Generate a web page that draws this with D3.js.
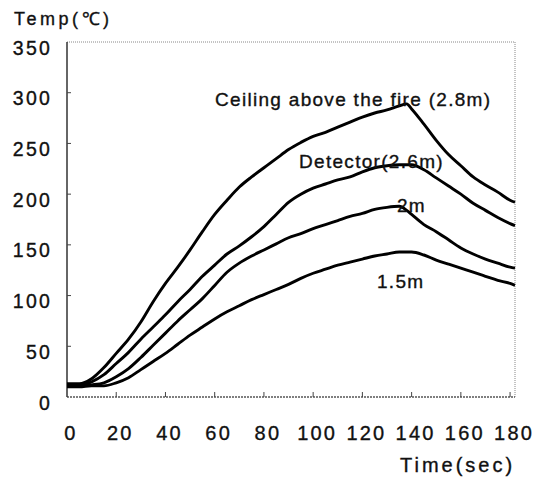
<!DOCTYPE html>
<html>
<head>
<meta charset="utf-8">
<script src="https://cdn.jsdelivr.net/npm/d3@7"></script>
<style>
    body { margin: 0; background: #fff; }
    text { font-family: "Liberation Sans", Arial, sans-serif; fill: #111; stroke: #111; stroke-width: 0.35px; }
</style>
</head>
<body>
<svg id="chart"></svg>
<script>
// sample times (sec), shared by all four series
var times = [0, 5, 10, 15, 20, 25, 30, 35, 40, 45, 50, 55, 60, 65, 70, 75, 80, 85, 90, 95,
    100, 105, 110, 115, 120, 125, 130, 135, 138, 140, 145, 150, 155, 160, 165, 170, 175, 180, 182];

// temperatures (deg C)
var ceilingTemp = [13, 13, 18, 29, 43, 57, 74, 94, 112, 128, 145, 163, 180, 194, 207, 217, 226, 235, 244, 251,
    257, 261, 266, 271, 276, 280, 283, 287, 289, 284, 269, 253, 239, 228, 217, 209, 202, 194, 192];
var detectorTemp = [12, 12, 15, 22, 33, 44, 57, 69, 81, 94, 106, 119, 130, 141, 149, 158, 168, 180, 192, 200,
    206, 210, 214, 217, 222, 226, 228, 229, 229, 229, 224, 216, 208, 200, 191, 184, 177, 171, 169];
var temp2m = [11, 11, 12, 14, 20, 28, 39, 51, 63, 75, 86, 97, 110, 123, 132, 139, 145, 151, 157, 161,
    166, 170, 174, 178, 181, 185, 187, 188, 184, 180, 170, 163, 155, 147, 141, 136, 132, 128, 127];
var temp15m = [10, 10, 11, 11, 14, 19, 27, 35, 43, 52, 61, 69, 77, 84, 90, 96, 101, 106, 111, 117,
    122, 126, 130, 133, 136, 139, 141, 143, 143, 143, 140, 135, 131, 127, 123, 119, 115, 112, 110];

var xTicks = [0, 20, 40, 60, 80, 100, 120, 140, 160, 180];
var yTicks = [0, 50, 100, 150, 200, 250, 300, 350];

var seriesLabels = ['Ceiling above the fire (2.8m)', 'Detector(2.6m)', '2m', '1.5m'];

(function () {
    var width = 537, height = 478;
    var left = 67, right = 515, top = 42, bottom = 397;

    var svg = d3.select('#chart')
        .attr('width', width)
        .attr('height', height);

    var x = d3.scaleLinear().domain([0, 182]).range([left, right]);
    var y = d3.scaleLinear().domain([0, 350]).range([bottom, top]);

    // frame: solid left axis, dotted grey on the other sides
    svg.append('line')
        .attr('x1', left).attr('x2', right).attr('y1', top).attr('y2', top)
        .attr('stroke', '#888').attr('stroke-width', 1).attr('stroke-dasharray', '1,1');
    svg.append('line')
        .attr('x1', right).attr('x2', right).attr('y1', top).attr('y2', bottom)
        .attr('stroke', '#888').attr('stroke-width', 1).attr('stroke-dasharray', '1,1');
    svg.append('line')
        .attr('x1', left).attr('x2', right).attr('y1', bottom).attr('y2', bottom)
        .attr('stroke', '#555').attr('stroke-width', 1.5).attr('stroke-dasharray', '2,1');
    svg.append('line')
        .attr('x1', left).attr('x2', left).attr('y1', top).attr('y2', bottom)
        .attr('stroke', '#333').attr('stroke-width', 1.5);

    // inward tick marks
    svg.selectAll('.ytick')
        .data(yTicks.slice(1, -1))
        .enter().append('line')
            .attr('class', 'ytick')
            .attr('x1', left).attr('x2', left + 4)
            .attr('y1', function (d) { return y(d); })
            .attr('y2', function (d) { return y(d); })
            .attr('stroke', '#444');

    svg.selectAll('.xtick')
        .data(xTicks.slice(1))
        .enter().append('line')
            .attr('class', 'xtick')
            .attr('x1', function (d) { return x(d); })
            .attr('x2', function (d) { return x(d); })
            .attr('y1', bottom).attr('y2', bottom - 5)
            .attr('stroke', '#444');

    // tick labels
    svg.selectAll('.ylabel')
        .data(yTicks)
        .enter().append('text')
            .attr('class', 'ylabel')
            .attr('x', 52)
            .attr('y', function (d) { return y(d) + 12.5; })
            .attr('text-anchor', 'end')
            .style('font-size', '19.5px')
            .style('letter-spacing', '2.2px')
            .text(function (d) { return d; });

    svg.selectAll('.xlabel')
        .data(xTicks)
        .enter().append('text')
            .attr('class', 'xlabel')
            .attr('x', function (d) { return x(d) + 4; })
            .attr('y', 440)
            .attr('text-anchor', 'middle')
            .style('font-size', '20px')
            .style('letter-spacing', '2.2px')
            .text(function (d) { return d; });

    // axis titles
    svg.append('text')
        .attr('x', 14).attr('y', 25)
        .style('font-size', '18px')
        .style('letter-spacing', '3.5px')
        .text('Temp(℃)');

    svg.append('text')
        .attr('x', 400).attr('y', 472)
        .style('font-size', '20px')
        .style('letter-spacing', '3px')
        .text('Time(sec)');

    // the four temperature curves
    var line = d3.line()
        .x(function (d) { return x(d[0]); })
        .y(function (d) { return y(d[1]); })
        .curve(d3.curveMonotoneX);

    var series = [ceilingTemp, detectorTemp, temp2m, temp15m];

    svg.selectAll('.curve')
        .data(series)
        .enter().append('path')
            .attr('class', 'curve')
            .attr('fill', 'none')
            .attr('stroke', '#000')
            .attr('stroke-width', 2.9)
            .attr('stroke-linejoin', 'round')
            .attr('d', function (vals) {
                return line(times.map(function (t, i) { return [t, vals[i]]; }));
            });

    // curve annotations
    var labelPos = [[215, 106], [299, 167.5], [397, 212], [377, 288]];
    svg.selectAll('.note')
        .data(seriesLabels)
        .enter().append('text')
            .attr('class', 'note')
            .attr('x', function (d, i) { return labelPos[i][0]; })
            .attr('y', function (d, i) { return labelPos[i][1]; })
            .style('font-size', '19px')
            .style('letter-spacing', '1.3px')
            .text(function (d) { return d; });
}());
</script>
</body>
</html>
